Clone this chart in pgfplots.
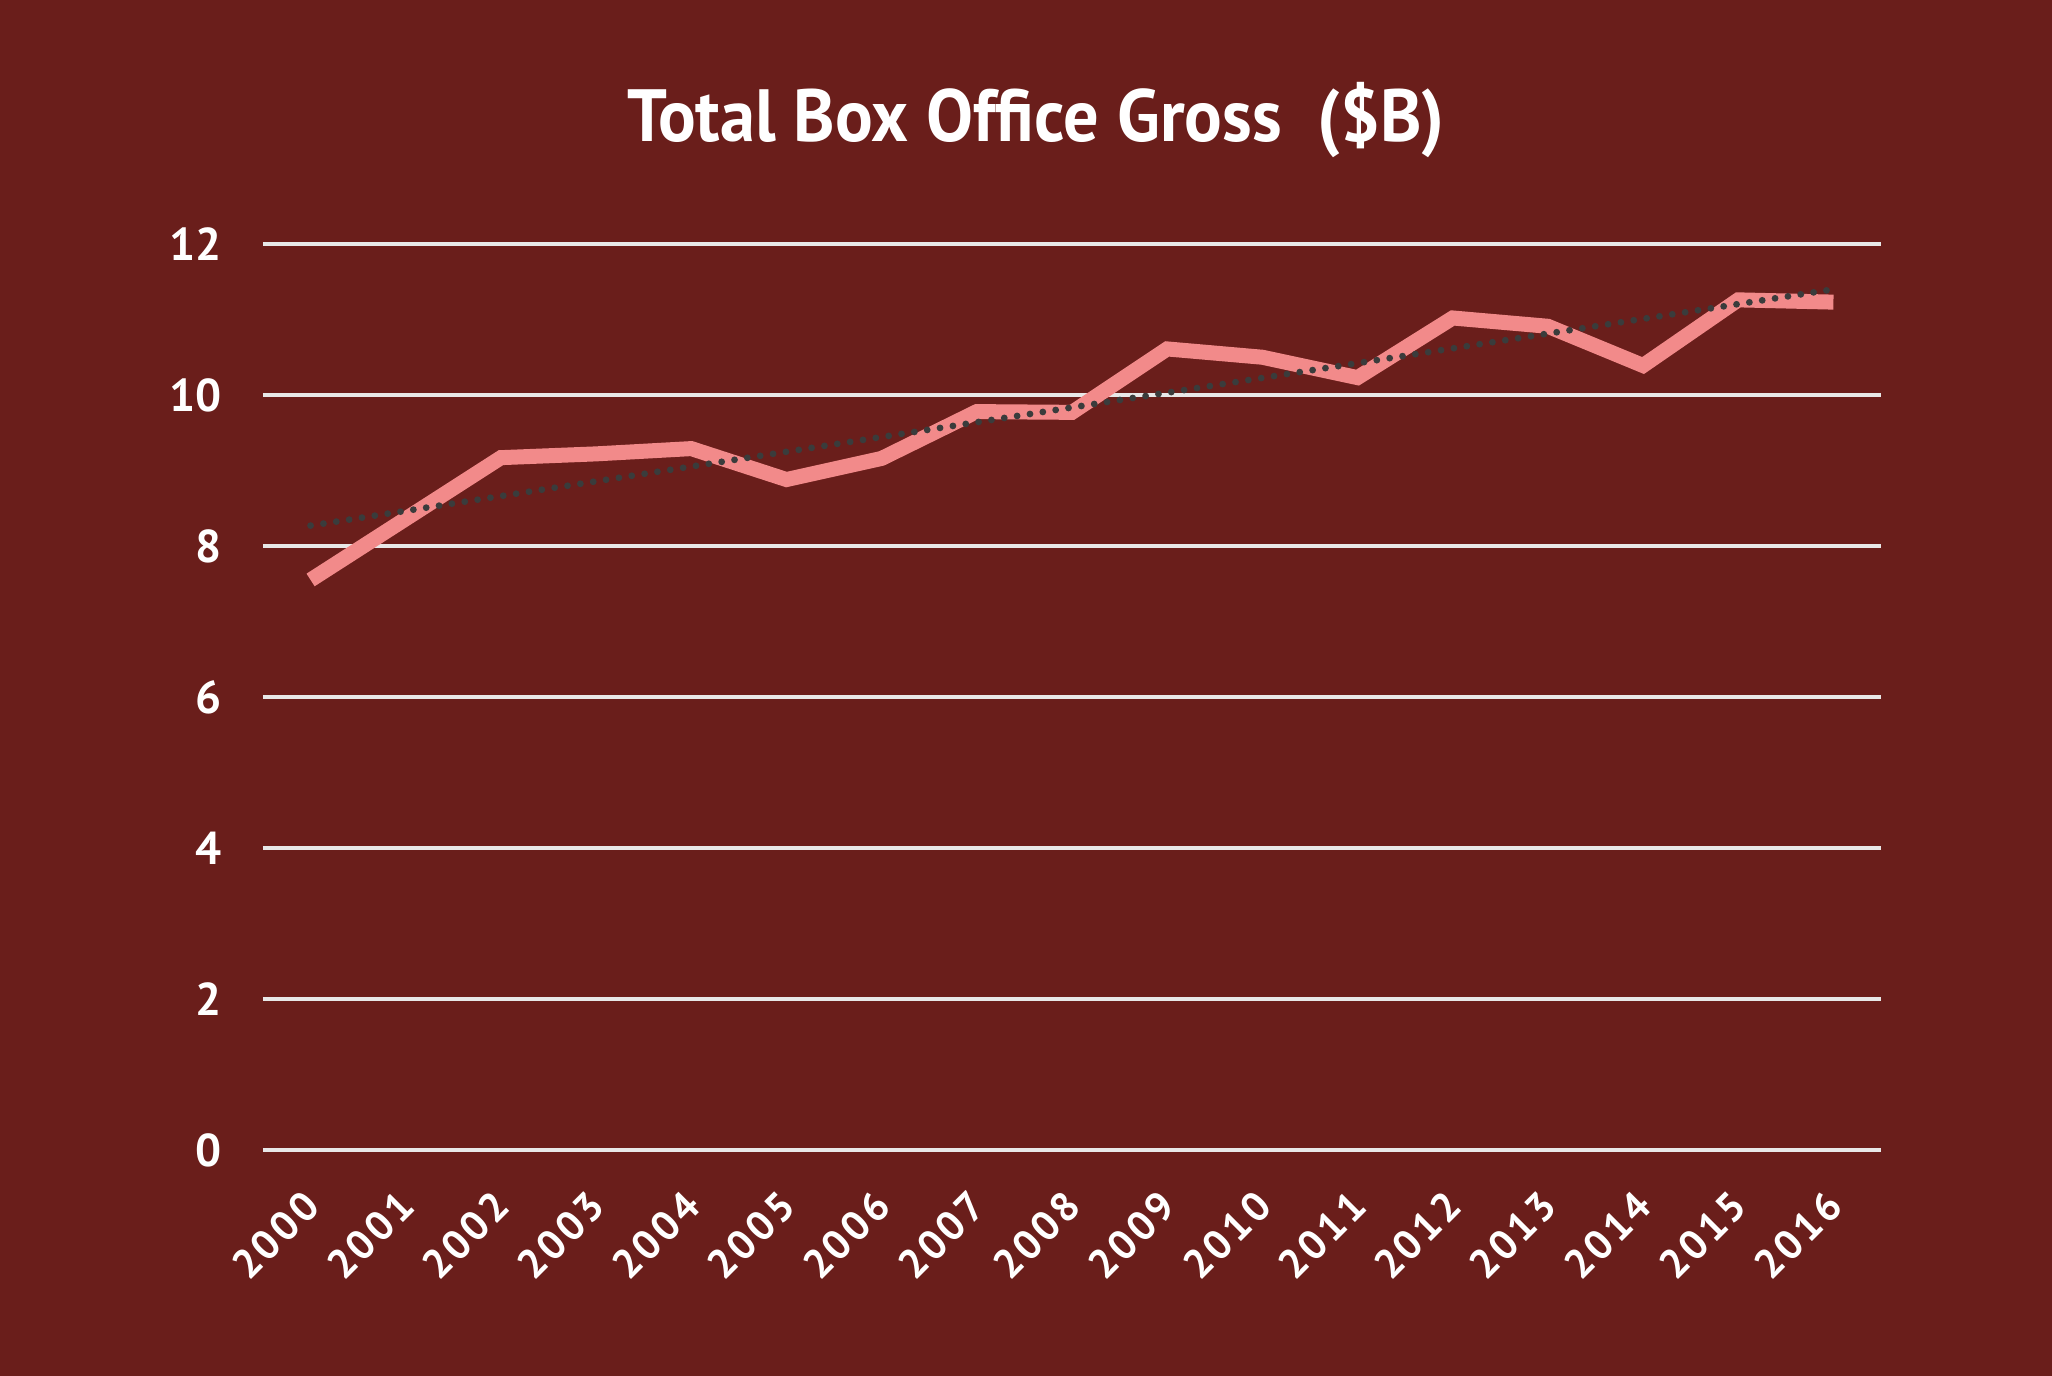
\documentclass[border=0pt]{standalone}
\usepackage{pgfplots}
\pgfplotsset{compat=1.18}
\usepackage{fontspec}
\setmainfont{PT Sans}
\newfontfamily\xtickfont[LetterSpace=8]{PT Sans}
\definecolor{bg}{RGB}{106,30,27}
\definecolor{linepink}{RGB}{242,138,138}
\definecolor{gridc}{RGB}{232,232,232}
\definecolor{trend}{RGB}{58,60,60}
\begin{document}
\begin{tikzpicture}
\fill[bg] (0,0) rectangle (1026pt,688pt);
\node[text=white, font=\bfseries\fontsize{37}{40}\selectfont] at (518pt,628pt) {\scalebox{0.95}[1]{Total Box Office Gross\ \ (\$B)}};
\begin{axis}[
  at={(131.5pt,113pt)}, anchor=south west,
  width=809pt, height=453pt, scale only axis,
  xmin=-0.5, xmax=16.5, ymin=0, ymax=12,
  ytick={0,2,4,6,8,10,12},
  xtick={0,1,2,3,4,5,6,7,8,9,10,11,12,13,14,15,16},
  xticklabels={2000,2001,2002,2003,2004,2005,2006,2007,2008,2009,2010,2011,2012,2013,2014,2015,2016},
  axis line style={draw=none},
  major tick style={draw=none},
  ymajorgrids, grid style={gridc, line width=2pt},
  /pgf/number format/assume math mode=true,
  tick label style={text=white},
  yticklabel style={font=\bfseries\fontsize{23}{25}\selectfont, anchor=east, xshift=-17pt},
  xticklabel style={font=\xtickfont\bfseries\fontsize{20.5}{23}\selectfont, xshift=3pt, yshift=-22pt, rotate=45, anchor=east},
  clip=false,
]
\addplot[linepink, line width=7.5pt, line join=miter] coordinates {
(0,7.55) (1,8.36) (2,9.17) (3,9.22) (4,9.29) (5,8.88) (6,9.16) (7,9.78) (8,9.77)
(9,10.61) (10,10.50) (11,10.23) (12,11.02) (13,10.91) (14,10.39) (15,11.26) (16,11.23)
};
\addplot[trend, line width=3.4pt, line cap=round, dash pattern=on 0pt off 6.5pt] coordinates {
(0,8.27) (16,11.40)
};
\end{axis}
\end{tikzpicture}
\end{document}
